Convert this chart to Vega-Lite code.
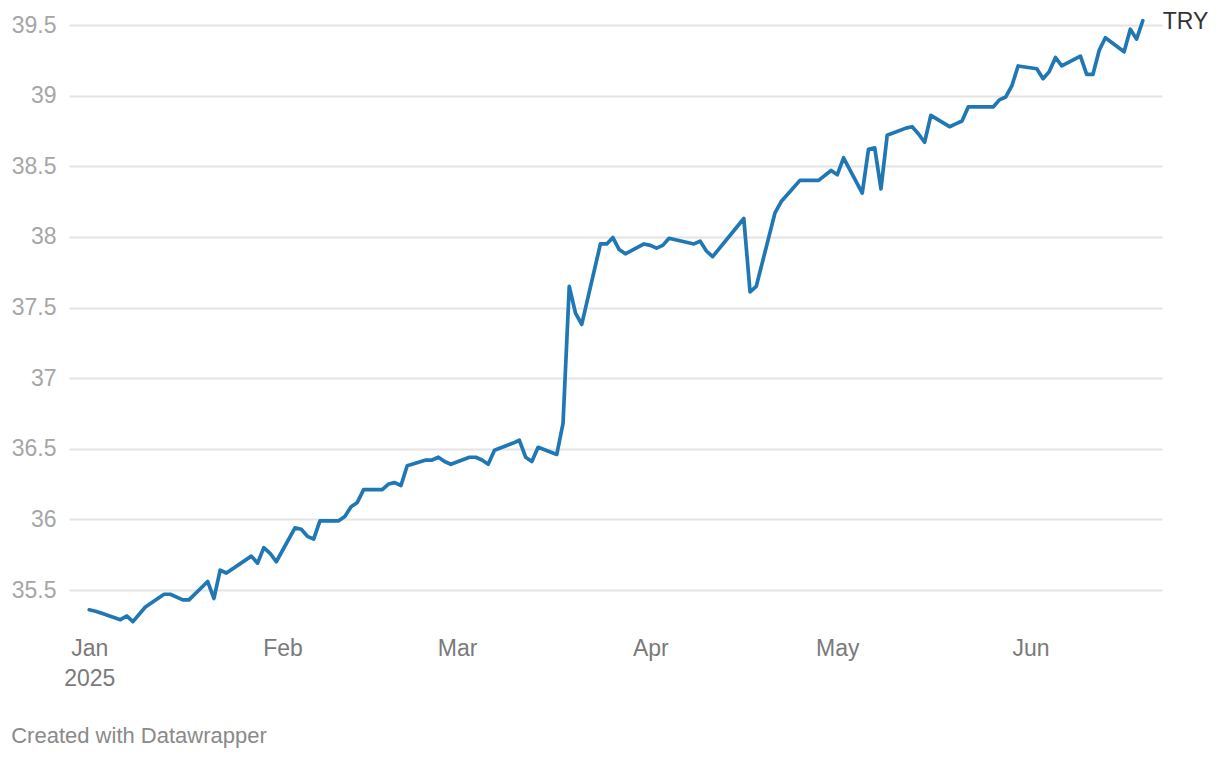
{
  "$schema": "https://vega.github.io/schema/vega-lite/v6.json",
  "autosize": {"type": "none"},
  "padding": {"left": 69, "top": 25, "right": 58, "bottom": 170},
  "width": 1093,
  "height": 565,
  "background": "white",
  "config": {"view": {"stroke": null}, "font": "Liberation Sans"},
  "title": {"text": "Created with Datawrapper", "orient": "bottom", "anchor": "start", "frame": "bounds", "offset": 36, "fontSize": 22, "font": "Liberation Sans", "fontWeight": "normal", "color": "#8a8a8a"},
  "datasets": {
    "fx": [
      {"date": "2025-01-01", "value": 35.36},
      {"date": "2025-01-02", "value": 35.35},
      {"date": "2025-01-03", "value": 35.335},
      {"date": "2025-01-06", "value": 35.29},
      {"date": "2025-01-07", "value": 35.316},
      {"date": "2025-01-08", "value": 35.276},
      {"date": "2025-01-10", "value": 35.38},
      {"date": "2025-01-13", "value": 35.47},
      {"date": "2025-01-14", "value": 35.47},
      {"date": "2025-01-16", "value": 35.43},
      {"date": "2025-01-17", "value": 35.43},
      {"date": "2025-01-20", "value": 35.56},
      {"date": "2025-01-21", "value": 35.44},
      {"date": "2025-01-22", "value": 35.64},
      {"date": "2025-01-23", "value": 35.62},
      {"date": "2025-01-27", "value": 35.74},
      {"date": "2025-01-28", "value": 35.69},
      {"date": "2025-01-29", "value": 35.80},
      {"date": "2025-01-30", "value": 35.76},
      {"date": "2025-01-31", "value": 35.70},
      {"date": "2025-02-03", "value": 35.94},
      {"date": "2025-02-04", "value": 35.93},
      {"date": "2025-02-05", "value": 35.88},
      {"date": "2025-02-06", "value": 35.86},
      {"date": "2025-02-07", "value": 35.99},
      {"date": "2025-02-10", "value": 35.99},
      {"date": "2025-02-11", "value": 36.02},
      {"date": "2025-02-12", "value": 36.09},
      {"date": "2025-02-13", "value": 36.12},
      {"date": "2025-02-14", "value": 36.21},
      {"date": "2025-02-17", "value": 36.21},
      {"date": "2025-02-18", "value": 36.25},
      {"date": "2025-02-19", "value": 36.26},
      {"date": "2025-02-20", "value": 36.24},
      {"date": "2025-02-21", "value": 36.38},
      {"date": "2025-02-24", "value": 36.42},
      {"date": "2025-02-25", "value": 36.42},
      {"date": "2025-02-26", "value": 36.44},
      {"date": "2025-02-27", "value": 36.41},
      {"date": "2025-02-28", "value": 36.39},
      {"date": "2025-03-03", "value": 36.44},
      {"date": "2025-03-04", "value": 36.44},
      {"date": "2025-03-05", "value": 36.42},
      {"date": "2025-03-06", "value": 36.39},
      {"date": "2025-03-07", "value": 36.49},
      {"date": "2025-03-10", "value": 36.54},
      {"date": "2025-03-11", "value": 36.56},
      {"date": "2025-03-12", "value": 36.44},
      {"date": "2025-03-13", "value": 36.41},
      {"date": "2025-03-14", "value": 36.51},
      {"date": "2025-03-17", "value": 36.46},
      {"date": "2025-03-18", "value": 36.68},
      {"date": "2025-03-19", "value": 37.65},
      {"date": "2025-03-20", "value": 37.46},
      {"date": "2025-03-21", "value": 37.38},
      {"date": "2025-03-24", "value": 37.95},
      {"date": "2025-03-25", "value": 37.95},
      {"date": "2025-03-26", "value": 37.995},
      {"date": "2025-03-27", "value": 37.91},
      {"date": "2025-03-28", "value": 37.88},
      {"date": "2025-03-31", "value": 37.95},
      {"date": "2025-04-01", "value": 37.94},
      {"date": "2025-04-02", "value": 37.92},
      {"date": "2025-04-03", "value": 37.94},
      {"date": "2025-04-04", "value": 37.99},
      {"date": "2025-04-08", "value": 37.95},
      {"date": "2025-04-09", "value": 37.97},
      {"date": "2025-04-10", "value": 37.90},
      {"date": "2025-04-11", "value": 37.86},
      {"date": "2025-04-16", "value": 38.13},
      {"date": "2025-04-17", "value": 37.61},
      {"date": "2025-04-18", "value": 37.65},
      {"date": "2025-04-21", "value": 38.17},
      {"date": "2025-04-22", "value": 38.25},
      {"date": "2025-04-23", "value": 38.30},
      {"date": "2025-04-25", "value": 38.40},
      {"date": "2025-04-28", "value": 38.40},
      {"date": "2025-04-30", "value": 38.47},
      {"date": "2025-05-01", "value": 38.44},
      {"date": "2025-05-02", "value": 38.56},
      {"date": "2025-05-05", "value": 38.31},
      {"date": "2025-05-06", "value": 38.62},
      {"date": "2025-05-07", "value": 38.63},
      {"date": "2025-05-08", "value": 38.34},
      {"date": "2025-05-09", "value": 38.72},
      {"date": "2025-05-12", "value": 38.77},
      {"date": "2025-05-13", "value": 38.78},
      {"date": "2025-05-14", "value": 38.73},
      {"date": "2025-05-15", "value": 38.67},
      {"date": "2025-05-16", "value": 38.86},
      {"date": "2025-05-19", "value": 38.78},
      {"date": "2025-05-20", "value": 38.80},
      {"date": "2025-05-21", "value": 38.82},
      {"date": "2025-05-22", "value": 38.92},
      {"date": "2025-05-26", "value": 38.92},
      {"date": "2025-05-27", "value": 38.97},
      {"date": "2025-05-28", "value": 38.99},
      {"date": "2025-05-29", "value": 39.07},
      {"date": "2025-05-30", "value": 39.21},
      {"date": "2025-06-02", "value": 39.19},
      {"date": "2025-06-03", "value": 39.12},
      {"date": "2025-06-04", "value": 39.17},
      {"date": "2025-06-05", "value": 39.27},
      {"date": "2025-06-06", "value": 39.21},
      {"date": "2025-06-09", "value": 39.28},
      {"date": "2025-06-10", "value": 39.15},
      {"date": "2025-06-11", "value": 39.15},
      {"date": "2025-06-12", "value": 39.32},
      {"date": "2025-06-13", "value": 39.41},
      {"date": "2025-06-16", "value": 39.31},
      {"date": "2025-06-17", "value": 39.47},
      {"date": "2025-06-18", "value": 39.40},
      {"date": "2025-06-19", "value": 39.53}
    ],
    "lab": [{"date": "2025-06-19", "value": 39.53, "label": "TRY"}]
  },
  "encoding": {
    "x": {
      "field": "date", "type": "temporal",
      "scale": {"type": "utc", "domain": [{"year": 2024, "month": 12, "date": 28, "hours": 18, "utc": true}, {"year": 2025, "month": 6, "date": 22, "hours": 2, "utc": true}]},
      "axis": {
        "title": null, "domain": false, "ticks": false, "grid": false,
        "values": [
          {"year": 2025, "month": 1, "date": 1, "utc": true},
          {"year": 2025, "month": 2, "date": 1, "utc": true},
          {"year": 2025, "month": 3, "date": 1, "utc": true},
          {"year": 2025, "month": 4, "date": 1, "utc": true},
          {"year": 2025, "month": 5, "date": 1, "utc": true},
          {"year": 2025, "month": 6, "date": 1, "utc": true}
        ],
        "labelExpr": "utcFormat(datum.value, '%b') == 'Jan' ? ['Jan', '2025'] : utcFormat(datum.value, '%b')",
        "labelFont": "Liberation Sans", "labelFontSize": 23, "labelColor": "#7a7a7a",
        "labelPadding": 47, "labelLineHeight": 30, "labelFlush": false, "labelOverlap": false, "labelBound": false,
        "labelBaseline": "top", "labelAlign": "center"
      }
    },
    "y": {
      "field": "value", "type": "quantitative",
      "scale": {"domain": [35.5, 39.5], "zero": false, "nice": false},
      "axis": {
        "title": null, "domain": false, "ticks": false, "grid": true,
        "values": [35.5, 36, 36.5, 37, 37.5, 38, 38.5, 39, 39.5],
        "format": "~g",
        "gridColor": "#e4e4e4", "gridWidth": 2,
        "labelFont": "Liberation Sans", "labelFontSize": 23, "labelColor": "#a6a6a6",
        "labelPadding": 13, "labelBaseline": "middle"
      }
    }
  },
  "layer": [
    {
      "data": {"name": "fx"},
      "mark": {"type": "line", "color": "#1f77b4", "strokeWidth": 3.7, "strokeJoin": "round", "strokeCap": "round", "clip": false}
    },
    {
      "data": {"name": "lab"},
      "mark": {"type": "text", "align": "left", "baseline": "middle", "dx": 20, "dy": 1, "font": "Liberation Sans", "fontSize": 23, "color": "#333333"},
      "encoding": {"text": {"field": "label"}}
    }
  ]
}
